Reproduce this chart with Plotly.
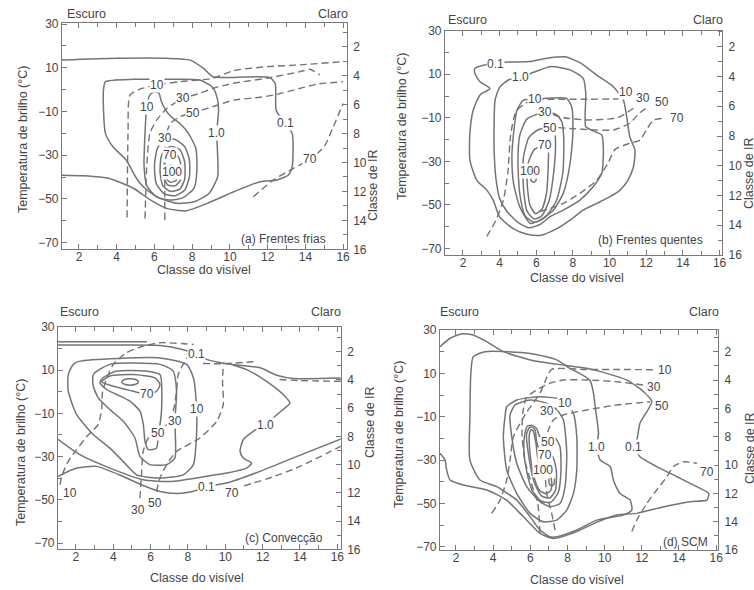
import plotly.graph_objects as go

# Frequency of occurrence (%) of each cloud type in the visible-class / IR-class plane.
# Solid lines: contours of frequency; dashed lines: contours of the second field.

# ---------------- (a) Frentes frias ----------------
a_s01_x = [1.1, 4.0, 6.6, 7.9, 8.6, 9.1, 10.2, 12.1, 12.4, 12.45, 12.9, 13.3, 13.3, 13.1, 12.5, 11.6, 10.2, 8.8, 7.7, 6.65, 5.8, 4.9, 3.6, 2.2, 1.1]
a_s01_y = [13.5, 14.3, 14.3, 13.5, 9.7, 5.9, 5.6, 5.6, 2.9, -9.3, -15.4, -20, -35.2, -39, -41.3, -42.1, -46.7, -52, -55.4, -54.3, -50.5, -45.2, -40.6, -39.4, -39.1]
a_s1_x = [3.4, 4.9, 6.65, 8.4, 9.1, 9.35, 9.4, 9.3, 9.35, 9.35, 8.9, 8.1, 7.2, 6.3, 5.6, 5.1, 4.5, 3.8, 3.4, 3.3, 3.3, 3.4]
a_s1_y = [3.6, 4.7, 4.7, 4.4, 1.0, -4.8, -9.3, -20, -30, -39.8, -47.4, -51.3, -52.0, -49.7, -45.9, -41.3, -32.2, -26.1, -20, -9.3, 0.0, 3.6]
a_s10_x = [6.0, 6.25, 6.35, 6.6, 6.9, 7.35, 7.8, 8.2, 8.25, 8.1, 7.5, 6.8, 6.1, 5.6, 5.45, 5.5, 5.59, 5.75, 6.0]
a_s10_y = [-0.9, -1.8, -5.0, -9.5, -12.5, -15.5, -20, -27, -37, -45, -49.5, -50.5, -49, -44, -35, -20, -7.8, -2.5, -0.9]
a_s30_x = [6.56, 7.1, 7.6, 7.85, 7.85, 7.6, 7.1, 6.5, 6.1, 6.0, 6.15, 6.56]
a_s30_y = [-22.3, -22.8, -26, -32, -40, -46, -48.5, -47.5, -43, -35, -27, -22.3]
a_s50_x = [6.9, 7.35, 7.6, 7.6, 7.35, 6.85, 6.45, 6.3, 6.35, 6.55, 6.9]
a_s50_y = [-26, -27.5, -33, -41, -45.5, -46.5, -44, -38, -31, -27.5, -26]
a_s70_x = [6.82, 7.25, 7.42, 7.4, 7.1, 6.7, 6.5, 6.5, 6.6, 6.82]
a_s70_y = [-29.9, -30.5, -35, -41, -44, -43.5, -40, -35, -31.5, -29.9]
a_s100_x = [6.8, 7.15, 7.25, 7.15, 6.85, 6.65, 6.6, 6.8]
a_s100_y = [-34.5, -35.5, -38.5, -41.5, -42.3, -41, -37.5, -34.5]
a_d10_x = [4.55, 4.6, 4.7, 5.2, 6.12, 7.3, 9.1, 10.2, 12.0, 13.7, 16.0]
a_d10_y = [-58.5, -20, -2.5, 0.1, 2.1, 3.6, 5.2, 8.7, 10.5, 11.3, 12.8]
a_d30_x = [5.5, 5.59, 5.76, 6.12, 6.65, 7.53, 8.41, 9.12, 10.18, 11.95, 13.71, 14.24, 14.77]
a_d30_y = [-58.9, -35.2, -20, -13.9, -8.6, -4.0, -1.7, 0.6, 2.9, 5.2, 8.2, 9.3, 6.7]
a_d50_x = [6.55, 6.55, 6.6, 6.85, 7.35, 8.06, 9.1, 10.2, 11.6, 12.3, 13.7, 14.6, 16.0]
a_d50_y = [-59.6, -40, -21.5, -15.4, -12.4, -10.5, -7.8, -4.8, -3.5, -2.5, 0.5, 2.5, 3.6]
a_d70_x = [11.24, 12.3, 13.36, 14.24, 15.0, 15.48, 16.0]
a_d70_y = [-49, -41.3, -36, -31.9, -26, -17, -6.3]
a_lab_t = ["10", "30", "50", "10", "30", "70", "100", "1.0", "0.1", "70"]
a_lab_x = [6.12, 7.53, 8.06, 5.59, 6.56, 6.82, 6.91, 9.3, 12.92, 14.24]
a_lab_y = [2.1, -4.0, -10.5, -7.8, -22.3, -29.9, -37.5, -20, -15.4, -31.9]

# ---------------- (b) Frentes quentes ----------------
b_s01_x = [2.65, 3.3, 4.2, 5.6, 6.75, 7.56, 8.38, 9.3, 10.2, 10.75, 10.93, 11.1, 11.38, 11.3, 11.0, 10.57, 10.0, 9.3, 8.55, 7.84, 7.1, 6.2, 5.5, 4.76, 4.0, 3.65, 3.3, 2.75, 2.38, 2.38, 2.56, 2.93, 3.47, 2.93, 2.65, 2.65]
b_s01_y = [12.7, 14.5, 15.5, 15.8, 17.6, 18.0, 15.3, 9.6, 4.3, -1.8, -9.5, -18.7, -24.8, -32.5, -38.6, -43.2, -46.3, -49.3, -52.4, -57, -61, -64, -63.5, -61, -55.5, -47.8, -43.2, -38.6, -29.4, -17, -6.4, 0.5, 3.5, 6.6, 10.4, 12.7]
b_s1_x = [5.13, 5.9, 6.75, 7.84, 8.56, 8.7, 8.7, 9.1, 9.57, 9.66, 9.57, 9.1, 8.38, 7.47, 6.75, 6.2, 5.6, 5.0, 4.4, 4.0, 3.8, 3.7, 3.7, 3.75, 4.0, 4.5, 5.13]
b_s1_y = [8.6, 11.0, 13.5, 12.0, 8.1, 1.2, -14.1, -16.0, -17.9, -24.8, -35.5, -41.7, -47.8, -52.4, -55.4, -59, -60.5, -58, -53, -47, -38, -25, -12, -2, 4, 7.5, 8.6]
b_s10_x = [5.95, 6.8, 7.66, 7.93, 8.0, 7.93, 7.75, 7.47, 6.93, 6.2, 5.67, 5.1, 4.76, 4.67, 4.76, 4.95, 5.3, 5.95]
b_s10_y = [-1.5, -0.9, -1.05, -4.9, -12.5, -24.8, -35.5, -44.7, -52.4, -57, -58.5, -50.9, -40.1, -27.9, -17.2, -6.4, -1.9, -1.5]
b_s30_x = [6.45, 7.1, 7.4, 7.5, 7.45, 7.1, 6.5, 5.9, 5.4, 5.1, 5.0, 5.1, 5.5, 6.45]
b_s30_y = [-7.5, -8.5, -12, -20, -35, -48, -55.5, -58, -55, -45, -30, -18, -10.5, -7.5]
b_s50_x = [6.75, 7.0, 7.05, 6.95, 6.7, 6.3, 5.9, 5.5, 5.3, 5.3, 5.6, 6.1, 6.75]
b_s50_y = [-14.6, -16.5, -22, -35, -48, -55, -56.5, -53, -42, -28, -19, -15.5, -14.6]
b_s70_x = [6.5, 6.65, 6.65, 6.55, 6.3, 5.95, 5.65, 5.5, 5.55, 5.9, 6.5]
b_s70_y = [-22.5, -24, -32, -45, -52, -54, -50, -40, -31, -24.5, -22.5]
b_s100_x = [5.7, 5.72, 5.85, 5.98, 6.0]
b_s100_y = [-37.0, -38.8, -39.6, -38.8, -37.0]
b_d10_x = [3.3, 3.8, 4.2, 4.45, 4.6, 4.9, 5.6, 6.8, 8.5, 10.5]
b_d10_y = [-64.5, -57, -48, -35, -18, -7, -2.5, -1.5, -1.5, -1.3]
b_d30_x = [6.9, 7.5, 8.75, 10.0, 10.57, 11.3]
b_d30_y = [-8.5, -10, -11, -10.5, -9.5, -5.6]
b_d50_x = [7.2, 8.0, 9.0, 10.2, 11.1, 11.6, 12.1]
b_d50_y = [-14.5, -15, -15.5, -15.6, -12.5, -8, -5]
b_d70_x = [6.2, 6.8, 7.47, 8.38, 9.3, 9.9, 10.3, 11.1, 11.66, 12.0, 12.4, 13.0]
b_d70_y = [-53, -51.5, -49.3, -44.7, -38.6, -31, -24.5, -21.7, -20.2, -15.6, -11, -10.2]
b_lab_t = ["0.1", "1.0", "10", "30", "50", "70", "100", "10", "30", "50", "70"]
b_lab_x = [3.76, 5.13, 5.95, 6.45, 6.75, 6.5, 5.65, 10.9, 11.84, 12.84, 13.66]
b_lab_y = [14.5, 8.6, -1.5, -7.5, -14.6, -22.5, -34.3, 2.0, -1.0, -2.6, -10.2]

# ---------------- (c) Convecção ----------------
c_stop_x = [1.04, 3.5, 5.8]
c_stop_y = [23.1, 23.1, 23.0]
c_s01t_x = [1.04, 4.0, 6.5, 7.7, 8.46, 9.0, 10.07, 11.86, 12.75, 13.64, 16.2]
c_s01t_y = [21.5, 21.5, 21.3, 19.5, 17.2, 14.9, 12.9, 11.0, 7.6, 6.1, 6.3]
c_s01b_x = [1.04, 2.04, 3.11, 4.53, 5.5, 6.5, 7.5, 8.3, 9.0, 10.07, 11.86, 13.64, 16.2]
c_s01b_y = [-39.2, -35.3, -34.5, -39.2, -43, -46.1, -47.0, -46.0, -43.8, -42.2, -36.8, -30.6, -21.8]
c_s1_x = [10.4, 11.14, 12.21, 13.1, 13.46, 12.93, 12.13, 11.5, 10.96, 10.79, 10.96, 11.41, 11.14, 10.07, 9.0, 7.04, 5.61, 3.82, 2.21, 1.04]
c_s1_y = [12.3, 10.2, 4.8, -1.3, -5.2, -9.4, -15.2, -18.3, -22.2, -27.6, -30.6, -33, -35.3, -37.6, -39.1, -41.5, -40.7, -35.3, -29.1, -22]
c_s10_x = [2.21, 6.5, 7.93, 8.29, 8.46, 8.46, 8.29, 7.75, 6.5, 5.25, 4.54, 3.82, 2.93, 2.04, 1.59, 1.59, 1.86, 2.21]
c_s10_y = [14.1, 15.6, 12.6, 6.4, -7.8, -19.8, -33.7, -38.4, -39.9, -38.4, -32.3, -26.1, -19.8, -10.6, 0.2, 7.9, 12.6, 14.1]
c_s30_x = [2.93, 3.82, 6.5, 7.21, 7.39, 7.3, 7.3, 6.86, 5.96, 5.43, 5.16, 4.54, 3.82, 3.2, 2.93, 2.93]
c_s30_y = [7.9, 12.6, 12.6, 9.5, 0.2, -13.7, -30.6, -33.7, -33.7, -29.9, -21.4, -13.7, -8.3, -2.9, 2.5, 7.9]
c_s50_x = [5.79, 6.5, 6.59, 6.5, 6.41, 6.32, 5.88, 5.7, 5.61, 5.43, 4.89, 4.18, 3.64, 3.29, 3.46, 4.18, 5.79]
c_s50_y = [9.5, 7.9, -7.5, -15.2, -19.1, -26, -26.8, -22.9, -15.2, -9, -4.4, -1.3, 1, 4.1, 6.4, 9.5, 9.5]
c_s70_x = [3.38, 3.82, 5.07, 6.23, 6.5, 6.32, 5.82, 5.07, 4.0, 3.38]
c_s70_y = [4.5, 7.2, 7.9, 6.4, 3.3, 0.2, -1.3, 0.2, 2.5, 4.5]
c_s100_x = [4.45, 4.6, 4.9, 5.2, 5.35, 5.2, 4.9, 4.6, 4.45]
c_s100_y = [4.5, 5.6, 6.0, 5.6, 4.5, 3.4, 3.0, 3.4, 4.5]
c_d10_x = [1.15, 1.23, 1.6, 2.04, 2.6, 3.19, 3.38, 3.42, 3.6, 4.0, 4.71, 5.6, 6.5, 8.3]
c_d10_y = [-43, -39.2, -32, -26.8, -20.5, -15.2, -8, -0.6, 5, 12.6, 18, 21, 22.6, 21.8]
c_d30_x = [5.43, 5.52, 5.6, 5.88, 6.32, 6.86, 7.21, 7.39, 7.48, 7.93]
c_d30_y = [-49.2, -36.8, -27.6, -21.4, -18.3, -15.2, -9, 0.2, 7.9, 15.6]
c_d50_x = [6.32, 6.5, 6.86, 7.39, 8.64, 9.54, 9.89, 9.85, 9.9]
c_d50_y = [-46.1, -39.9, -33.7, -27.6, -21.4, -13.7, -6, 5, 12.6]
c_dtop_x = [8.8, 9.9, 11.5]
c_dtop_y = [13.0, 12.9, 13.8]
c_dright_x = [12.9, 14.0, 16.2]
c_dright_y = [5.6, 5.1, 4.8]
c_d70_x = [11.0, 12.5, 14.0, 16.2]
c_d70_y = [-43.5, -39.5, -34.5, -25.2]
c_lab_t = ["0.1", "70", "30", "10", "50", "1.0", "0.1", "70", "10", "30", "50"]
c_lab_x = [8.46, 5.82, 7.3, 8.5, 6.41, 12.13, 9.0, 10.34, 1.68, 5.34, 6.23]
c_lab_y = [17.2, -1.3, -13.7, -7.8, -19.1, -15.2, -43.8, -46.9, -46.9, -54.6, -51.5]

# ---------------- (d) SCM ----------------
d_s01_x = [1.14, 1.68, 2.3, 2.93, 3.65, 4.55, 5.99, 7.78, 9.04, 10.1, 11.2, 12.1, 12.54, 12.27, 11.9, 11.73, 11.55, 11.9, 12.8, 13.9, 14.96, 15.6, 15.5, 14.6, 13.2, 11.73, 10.65, 9.5, 8.5, 7.24, 6.52, 5.63, 4.73, 3.65, 2.4, 1.68, 1.5, 1.41, 1.14]
d_s01_y = [22.3, 26.2, 28.2, 27.7, 24.6, 20, 16.2, 13.8, 12.3, 10, 6.9, 1.5, -3, -7.7, -13, -20.8, -23.8, -28.5, -33, -37.7, -42.3, -45.4, -48.5, -49.2, -51.5, -54.6, -55.4, -59, -63, -66.2, -63.8, -56.2, -48.5, -43.8, -41.5, -39.2, -34.6, -30, -26.9]
d_s1_x = [2.93, 3.56, 5.99, 7.42, 8.14, 9.2, 9.4, 9.49, 9.67, 9.58, 9.76, 10.3, 10.47, 10.83, 11.37, 11.46, 11.0, 9.58, 8.5, 7.42, 7.06, 6.52, 5.99, 5.27, 4.19, 3.29, 2.75, 2.75, 2.8, 2.93]
d_s1_y = [17.7, 20, 19.2, 16.2, 12.3, 6.9, 0.8, -5.4, -17.7, -23.8, -30, -33, -39.2, -45.4, -48.5, -53.1, -55.4, -57.7, -62.3, -65.4, -65.4, -62.3, -56.2, -48.5, -42.3, -39.2, -30, -10, 10, 17.7]
d_s10_x = [5.27, 6.52, 7.78, 8.32, 8.5, 8.5, 8.32, 7.96, 7.42, 6.7, 5.99, 5.27, 4.73, 4.55, 4.64, 4.73, 5.27]
d_s10_y = [-2.3, -0.8, -2.3, -8.5, -19.2, -34.6, -45.4, -53.1, -57.7, -58.5, -54.6, -45.4, -34.6, -19.2, -10, -5.4, -2.3]
d_s30_x = [4.91, 5.18, 5.99, 6.79, 7.4, 7.78, 7.96, 7.87, 7.6, 7.06, 6.52, 5.81, 5.27, 5.0, 4.91]
d_s30_y = [-9.2, -4.6, -2.3, -3.5, -6.5, -11.5, -26.9, -42.3, -50, -51.5, -49.2, -42.3, -31.5, -19.2, -9.2]
d_s50_x = [5.7, 5.85, 6.1, 6.35, 6.5, 7.35, 7.6, 7.65, 7.5, 7.1, 6.6, 6.1, 5.8, 5.65, 5.7]
d_s50_y = [-18, -14.3, -14, -15.5, -19, -20, -24, -35, -45, -49.5, -49, -44, -35, -25, -18]
d_s70_x = [5.8, 5.95, 6.1, 6.25, 6.35, 6.6, 7.2, 7.4, 7.35, 7.05, 6.6, 6.2, 5.95, 5.8]
d_s70_y = [-18, -15, -14.8, -16, -22, -27, -28.5, -35, -44, -47.5, -46.5, -40, -30, -18]
d_s100_x = [5.95, 6.05, 6.15, 6.3, 6.5, 7.0, 7.15, 7.1, 6.85, 6.5, 6.2, 6.0, 5.95]
d_s100_y = [-18, -16, -16.5, -22, -33, -35, -40, -44, -45.5, -44, -38, -28, -18]
d_su_x = [7.0, 7.02, 7.15, 7.28, 7.3]
d_su_y = [-38.5, -41, -42, -41, -38.5]
d_d10_x = [3.92, 4.37, 4.73, 4.91, 5.09, 5.8, 6.52, 6.79, 7.15, 9.0, 11.0, 12.8]
d_d10_y = [-54.6, -48.5, -39.2, -30, -19.2, -8, 0.8, 6.2, 11.8, 11.8, 11.8, 11.6]
d_d30_x = [6.52, 6.4, 6.1, 5.7, 5.55, 5.6, 5.8, 6.34, 7.0, 7.78, 9.2, 10.8, 12.1]
d_d30_y = [-63.8, -50, -42, -30, -18, -8, -1, 2.3, 5.3, 6.9, 6.9, 6.0, 4.6]
d_d50_x = [7.33, 7.15, 6.88, 6.79, 6.79, 6.97, 7.24, 7.78, 9.04, 10.65, 12.45]
d_d50_y = [-62.3, -54.6, -45.4, -34.6, -23.8, -16.2, -11.5, -9.2, -6.9, -4.6, -3.1]
d_d70_x = [11.46, 11.73, 12.27, 12.8, 13.35, 13.7, 14.24, 14.96]
d_d70_y = [-63, -57.7, -50, -43.8, -37.7, -33, -30.8, -31.5]
d_lab_t = ["10", "30", "50", "30", "10", "50", "70", "100", "1.0", "0.1", "70"]
d_lab_x = [13.26, 12.63, 13.08, 6.92, 7.87, 6.97, 6.79, 6.70, 9.58, 11.55, 15.5]
d_lab_y = [11.5, 3.8, -5.1, -7.2, -3.5, -21.5, -27.7, -34.6, -23.8, -23.8, -35.4]

# axis ticks
vis_ticks = [2, 4, 6, 8, 10, 12, 14, 16]
temp_ticks = [-70, -50, -30, -10, 10, 30]
ir_ticks = [2, 4, 6, 8, 10, 12, 14, 16]

W, H = 754, 590
LINE = "#747474"
AXIS = "#7a7a7a"
TEXT = "#454545"
FONT = "Liberation Sans, Arial, sans-serif"


def px(v):
    return v / W


def py(v):
    return 1 - v / H


panels = [
    dict(title="(a) Frentes frias",
         solid=[(a_s01_x, a_s01_y), (a_s1_x, a_s1_y), (a_s10_x, a_s10_y), (a_s30_x, a_s30_y),
                (a_s50_x, a_s50_y), (a_s70_x, a_s70_y), (a_s100_x, a_s100_y)],
         dashed=[(a_d10_x, a_d10_y), (a_d30_x, a_d30_y), (a_d50_x, a_d50_y), (a_d70_x, a_d70_y)],
         labels=(a_lab_t, a_lab_x, a_lab_y),
         box=(62, 346.7, 22.7, 249.3), xr=[1.1, 16.19], yr=[-73.0, 30.6], irr=[16, 0.34],
         esc=(86, 14), cla=(333, 14), xt=(204, 270), yt=(23, 140), irt=(373, 185), pt=(328, 239)),
    dict(title="(b) Frentes quentes",
         solid=[(b_s01_x, b_s01_y), (b_s1_x, b_s1_y), (b_s10_x, b_s10_y), (b_s30_x, b_s30_y),
                (b_s50_x, b_s50_y), (b_s70_x, b_s70_y), (b_s100_x, b_s100_y)],
         dashed=[(b_d10_x, b_d10_y), (b_d30_x, b_d30_y), (b_d50_x, b_d50_y), (b_d70_x, b_d70_y)],
         labels=(b_lab_t, b_lab_x, b_lab_y),
         box=(445, 722, 30.7, 255), xr=[1.02, 16.13], yr=[-73.0, 30.0], irr=[16, 0.92],
         esc=(467, 20), cla=(708, 20), xt=(577, 278), yt=(402, 127), irt=(749, 173), pt=(705, 240)),
    dict(title="(c) Convecção",
         solid=[(c_stop_x, c_stop_y), (c_s01t_x, c_s01t_y), (c_s01b_x, c_s01b_y), (c_s1_x, c_s1_y),
                (c_s10_x, c_s10_y), (c_s30_x, c_s30_y), (c_s50_x, c_s50_y), (c_s70_x, c_s70_y),
                (c_s100_x, c_s100_y)],
         dashed=[(c_d10_x, c_d10_y), (c_d30_x, c_d30_y), (c_d50_x, c_d50_y), (c_dtop_x, c_dtop_y),
                 (c_dright_x, c_dright_y), (c_d70_x, c_d70_y)],
         labels=(c_lab_t, c_lab_x, c_lab_y),
         box=(58, 340.7, 326.7, 549.3), xr=[1.04, 16.18], yr=[-72.8, 30.0], irr=[16, 0.23],
         esc=(79, 312), cla=(326, 312), xt=(197, 578), yt=(21, 453), irt=(370, 422), pt=(325, 538)),
    dict(title="(d) SCM",
         solid=[(d_s01_x, d_s01_y), (d_s1_x, d_s1_y), (d_s10_x, d_s10_y), (d_s30_x, d_s30_y),
                (d_s50_x, d_s50_y), (d_s70_x, d_s70_y), (d_s100_x, d_s100_y), (d_su_x, d_su_y)],
         dashed=[(d_d10_x, d_d10_y), (d_d30_x, d_d30_y), (d_d50_x, d_d50_y), (d_d70_x, d_d70_y)],
         labels=(d_lab_t, d_lab_x, d_lab_y),
         box=(440, 718, 330, 550), xr=[1.14, 16.1], yr=[-71.5, 30.0], irr=[16, 0.47],
         esc=(459, 312), cla=(704, 312), xt=(577, 580), yt=(399, 435), irt=(750, 448), pt=(710, 542)),
]

fig = go.Figure()
annotations = []
layout = {}
tickfont = dict(family=FONT, size=12, color=TEXT)

for i, p in enumerate(panels, start=1):
    s = "" if i == 1 else str(i)
    xref, yref, iref = "x" + s, "y" + s, "y" + str(i + 4)
    for xs, ys in p["solid"]:
        fig.add_trace(go.Scatter(x=xs, y=ys, mode="lines", xaxis=xref, yaxis=yref,
                                 line=dict(color=LINE, width=1.5, shape="spline", smoothing=0.6),
                                 hoverinfo="skip", showlegend=False))
    for xs, ys in p["dashed"]:
        fig.add_trace(go.Scatter(x=xs, y=ys, mode="lines", xaxis=xref, yaxis=yref,
                                 line=dict(color=LINE, width=1.4, dash="7px,4px", shape="spline", smoothing=0.6),
                                 hoverinfo="skip", showlegend=False))
    # invisible trace so the IR axis (right side) is drawn
    fig.add_trace(go.Scatter(x=vis_ticks, y=ir_ticks, mode="markers", xaxis=xref, yaxis=iref,
                             marker=dict(opacity=0), hoverinfo="skip", showlegend=False))

    x0, x1, y0, y1 = p["box"]
    layout["xaxis" + s] = dict(
        domain=[px(x0), px(x1)], range=p["xr"], anchor=yref, automargin=False,
        tickmode="array", tickvals=vis_ticks, ticks="inside", ticklen=5, tickcolor=AXIS,
        ticklabelstandoff=-4,
        minor=dict(tickvals=list(range(1, 17)), ticks="inside", ticklen=4, tickcolor=AXIS),
        showline=True, linecolor=AXIS, linewidth=1.2, mirror="ticks",
        showgrid=False, zeroline=False, tickfont=tickfont)
    layout["yaxis" + s] = dict(
        domain=[py(y1), py(y0)], range=p["yr"], anchor=xref, automargin=False,
        tickmode="array", tickvals=temp_ticks, ticks="inside", ticklen=5, tickcolor=AXIS,
        minor=dict(tickvals=list(range(-70, 31, 10)), ticks="inside", ticklen=4, tickcolor=AXIS),
        showline=True, linecolor=AXIS, linewidth=1.2,
        showgrid=False, zeroline=False, tickfont=tickfont)
    layout["yaxis" + str(i + 4)] = dict(
        overlaying=yref, side="right", anchor=xref, range=p["irr"], automargin=False,
        tickmode="array", tickvals=ir_ticks, ticks="inside", ticklen=5, tickcolor=AXIS,
        ticklabelstandoff=3,
        minor=dict(tickvals=list(range(1, 17)), ticks="inside", ticklen=4, tickcolor=AXIS),
        showline=True, linecolor=AXIS, linewidth=1.2,
        showgrid=False, zeroline=False, tickfont=tickfont)

    # contour labels (white box breaks the line underneath)
    for t, lx, ly in zip(*p["labels"]):
        annotations.append(dict(x=lx, y=ly, xref=xref, yref=yref, text=t, showarrow=False,
                                font=dict(family=FONT, size=12, color=TEXT),
                                bgcolor="white", borderpad=0))

    def txt(pos, text, angle=0, xanchor="center", size=12.5):
        annotations.append(dict(x=px(pos[0]), y=py(pos[1]), xref="paper", yref="paper",
                                text=text, showarrow=False, textangle=angle,
                                xanchor=xanchor, yanchor="middle",
                                font=dict(family=FONT, size=size, color=TEXT)))

    txt(p["esc"], "Escuro")
    txt(p["cla"], "Claro")
    txt(p["xt"], "Classe do visível")
    txt(p["yt"], "Temperatura de brilho (°C)", angle=-90)
    txt(p["irt"], "Classe de IR", angle=-90)
    txt(p["pt"], p["title"], xanchor="right", size=12)

fig.update_layout(
    width=W, height=H,
    margin=dict(l=0, r=0, t=0, b=0),
    paper_bgcolor="white", plot_bgcolor="white",
    showlegend=False,
    annotations=annotations,
    **layout,
)

# page margin off so the figure sits at the window's top-left corner
fig.write_html("out.html", config={"displayModeBar": False},
               post_script="document.body.style.margin='0px';")
